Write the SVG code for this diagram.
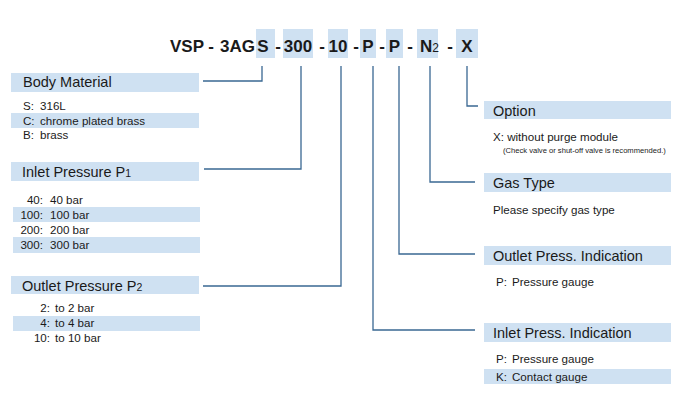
<svg xmlns="http://www.w3.org/2000/svg" width="694" height="402" viewBox="0 0 694 402">
<style>
.hl{fill:#cfe1f2}
.t{font-family:"Liberation Sans",Arial,sans-serif;fill:#1a1a1a}
.ti{font-family:"Liberation Sans",Arial,sans-serif;font-weight:bold;font-size:17px;fill:#1a1a1a}
.h{font-size:14.5px}
.i{font-size:11.6px}
.s{font-size:7.6px}
.c{fill:none;stroke:#3a6893;stroke-width:1.3}
</style>
<rect width="694" height="402" fill="#fff"/>
<g id="title">
<rect class="hl" x="256" y="29" width="19" height="29"/>
<rect class="hl" x="283" y="29" width="30" height="29"/>
<rect class="hl" x="328" y="29" width="20" height="29"/>
<rect class="hl" x="360" y="29" width="16" height="29"/>
<rect class="hl" x="386" y="29" width="17" height="29"/>
<rect class="hl" x="417" y="29" width="21" height="29"/>
<rect class="hl" x="456" y="29" width="22" height="29"/>
<text class="ti" x="170" y="52">VSP</text>
<text class="ti" x="220" y="52">3AG</text>
<text class="ti" x="263" y="52" text-anchor="middle">S</text>
<text class="ti" x="298" y="52" text-anchor="middle">300</text>
<text class="ti" x="338" y="52" text-anchor="middle">10</text>
<text class="ti" x="368" y="52" text-anchor="middle">P</text>
<text class="ti" x="394.5" y="52" text-anchor="middle">P</text>
<text class="ti" x="420" y="52">N<tspan font-weight="normal" font-size="12px">2</tspan></text>
<text class="ti" x="467" y="52" text-anchor="middle">X</text>
<g text-anchor="middle">
<text class="ti" x="211" y="52">-</text>
<text class="ti" x="278" y="52">-</text>
<text class="ti" x="322" y="52">-</text>
<text class="ti" x="356" y="52">-</text>
<text class="ti" x="382" y="52">-</text>
<text class="ti" x="410" y="52">-</text>
<text class="ti" x="450" y="52">-</text>
</g>
</g>
<g id="connectors">
<polyline class="c" points="262,66 262,81 203,81"/>
<polyline class="c" points="301,66 301,169 204,169"/>
<polyline class="c" points="341,66 341,286 203,286"/>
<polyline class="c" points="373,66 373,330 475,330"/>
<polyline class="c" points="399,66 399,254 475,254"/>
<polyline class="c" points="430,66 430,182 475,182"/>
<polyline class="c" points="467,66 467,106 478,106"/>
</g>
<g id="body-material">
<rect class="hl" x="11" y="73" width="188" height="19"/>
<text class="t h" x="23" y="87">Body Material</text>
<rect class="hl" x="11" y="113" width="188" height="15"/>
<text class="t i" x="23" y="110">S:</text><text class="t i" x="40" y="110">316L</text>
<text class="t i" x="23" y="125">C:</text><text class="t i" x="40" y="125">chrome plated brass</text>
<text class="t i" x="23" y="139">B:</text><text class="t i" x="40" y="139">brass</text>
</g>
<g id="inlet-pressure">
<rect class="hl" x="11" y="162" width="188" height="19"/>
<text class="t h" x="22" y="177">Inlet Pressure P<tspan font-size="10.5px">1</tspan></text>
<rect class="hl" x="13" y="207" width="187" height="15"/>
<rect class="hl" x="13" y="237" width="187" height="16"/>
<g text-anchor="end">
<text class="t i" x="43" y="204">40:</text>
<text class="t i" x="43" y="219">100:</text>
<text class="t i" x="43" y="234">200:</text>
<text class="t i" x="43" y="249">300:</text>
</g>
<text class="t i" x="50" y="204">40 bar</text>
<text class="t i" x="50" y="219">100 bar</text>
<text class="t i" x="50" y="234">200 bar</text>
<text class="t i" x="50" y="249">300 bar</text>
</g>
<g id="outlet-pressure">
<rect class="hl" x="11" y="276" width="188" height="18"/>
<text class="t h" x="22" y="291">Outlet Pressure P<tspan font-size="10.5px">2</tspan></text>
<rect class="hl" x="13" y="316" width="187" height="15"/>
<g text-anchor="end">
<text class="t i" x="50" y="312">2:</text>
<text class="t i" x="50" y="327">4:</text>
<text class="t i" x="50" y="342">10:</text>
</g>
<text class="t i" x="55" y="312">to 2 bar</text>
<text class="t i" x="55" y="327">to 4 bar</text>
<text class="t i" x="55" y="342">to 10 bar</text>
</g>
<g id="option">
<rect class="hl" x="484" y="101" width="187" height="18"/>
<text class="t h" x="493" y="116">Option</text>
<text class="t i" x="493" y="141">X: without purge module</text>
<text class="t s" x="503" y="153">(Check valve or shut-off valve is recommended.)</text>
</g>
<g id="gas-type">
<rect class="hl" x="484" y="173" width="187" height="19"/>
<text class="t h" x="493" y="188">Gas Type</text>
<text class="t i" x="493" y="214">Please specify gas type</text>
</g>
<g id="outlet-indication">
<rect class="hl" x="484" y="246" width="187" height="19"/>
<text class="t h" x="493" y="261">Outlet Press. Indication</text>
<text class="t i" x="496" y="286">P:</text><text class="t i" x="512" y="286">Pressure gauge</text>
</g>
<g id="inlet-indication">
<rect class="hl" x="484" y="323" width="187" height="19"/>
<text class="t h" x="493" y="338">Inlet Press. Indication</text>
<text class="t i" x="496" y="363">P:</text><text class="t i" x="512" y="363">Pressure gauge</text>
<rect class="hl" x="484" y="369" width="187" height="15"/>
<text class="t i" x="496" y="381">K:</text><text class="t i" x="512" y="381">Contact gauge</text>
</g>
</svg>
